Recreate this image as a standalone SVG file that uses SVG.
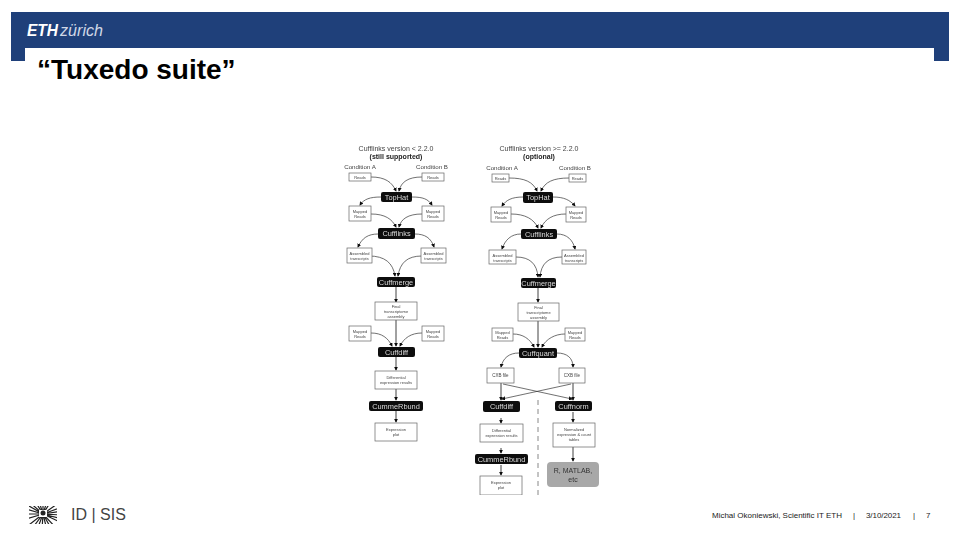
<svg xmlns="http://www.w3.org/2000/svg" width="960" height="540" viewBox="0 0 960 540">
<style>
text{font-family:"Liberation Sans",Arial,sans-serif}
.b{fill:#fff;stroke:#666;stroke-width:.7}
.k{fill:#0b0b0b}
.t{font-size:4px;fill:#444;text-anchor:middle}
.w{font-size:7.4px;fill:#ddd;text-anchor:middle}
.h{font-size:6.2px;fill:#444;text-anchor:middle}
.g{font-size:7px}
.c{fill:none;stroke:#333;stroke-width:.7;marker-end:url(#a)}
.s{fill:none;stroke:#444;stroke-width:1;marker-end:url(#a)}
</style>
<defs><marker id="a" markerWidth="4" markerHeight="4" refX="3.2" refY="2" orient="auto" markerUnits="userSpaceOnUse"><path d="M0 0L4 2L0 4Z" fill="#111"/></marker>
<filter id="soft" x="0" y="0" width="1" height="1"><feGaussianBlur stdDeviation="0.35"/></filter>
<clipPath id="lc"><rect x="29" y="506" width="28" height="18"/></clipPath></defs>
<g id="banner">
<path d="M11 12H949V61H934V48H25V61H11Z" fill="#1f407a"/>
<text x="27" y="36" font-size="16" font-weight="700" font-style="italic" fill="#fff" textLength="31" lengthAdjust="spacingAndGlyphs">ETH</text>
<text x="60" y="36" font-size="16" font-style="italic" fill="#cfd7e6" textLength="43" lengthAdjust="spacingAndGlyphs">zürich</text>
</g>
<text id="title" x="37" y="79" font-size="28" font-weight="700" fill="#000">“Tuxedo suite”</text>
<g id="figure" filter="url(#soft)">
<g id="connectors">
<path class="c" d="M371 177C385 177 392 182 396 191"/><path class="c" d="M422 177C408 177 401 182 399 191"/>
<path class="c" d="M381 197C370 197 364 199 360 205"/><path class="c" d="M412 197C423 197 428 199 432 205"/>
<path class="c" d="M371 214C385 214 392 219 396 227"/><path class="c" d="M422 214C408 214 401 219 399 227"/>
<path class="c" d="M378 234C368 234 362 238 358 247"/><path class="c" d="M415 234C425 234 431 238 434 247"/>
<path class="c" d="M369 256C385 256 393 263 395 276"/><path class="c" d="M422 256C407 256 400 263 398 276"/>
<path class="s" d="M396 287V302"/><path class="s" d="M396 320V346"/>
<path class="c" d="M371 333C382 333 388 338 392 346"/><path class="c" d="M422 333C411 333 404 338 400 346"/>
<path class="s" d="M396 357V370"/><path class="s" d="M396 389V400"/><path class="s" d="M396 411V422"/>
<path class="c" d="M509 178C525 178 533 182 537 191"/><path class="c" d="M569 178C553 178 545 182 541 191"/>
<path class="c" d="M523 197C512 197 506 200 502 206"/><path class="c" d="M553 197C564 197 570 200 575 206"/>
<path class="c" d="M511 214C525 214 534 219 538 228"/><path class="c" d="M566 214C553 214 545 219 541 228"/>
<path class="c" d="M521 234C511 234 505 240 502 249"/><path class="c" d="M557 234C567 234 573 240 575 249"/>
<path class="c" d="M516 257C530 257 537 264 538 277"/><path class="c" d="M562 257C548 257 541 264 540 277"/>
<path class="s" d="M538 288V302"/><path class="s" d="M538 321V347"/>
<path class="c" d="M513 334C523 334 530 339 534 347"/><path class="c" d="M565 334C555 334 546 339 542 347"/>
<path class="c" d="M519 353C509 353 503 358 501 367"/><path class="c" d="M557 353C567 353 573 358 573 367"/>
<path class="s" d="M501 383V400"/><path class="s" d="M573 383V400"/>
<path class="c" d="M503 384L572 399"/><path class="c" d="M571 384L502 399"/>
<path class="s" d="M501 418V423"/><path class="s" d="M573 412V422"/><path class="s" d="M501 448V453"/><path class="s" d="M573 447V461"/><path class="s" d="M501 465V475"/>
<path d="M538 400V495" fill="none" stroke="#888" stroke-width="1" stroke-dasharray="5 4"/>
</g>
<g id="headings">
<text class="h g" x="396" y="151">Cufflinks version &lt; 2.2.0</text>
<text class="h g" x="396" y="159" font-weight="700" style="fill:#222">(still supported)</text>
<text class="h g" x="539" y="151">Cufflinks version &gt;= 2.2.0</text>
<text class="h g" x="539" y="159" font-weight="700" style="fill:#222">(optional)</text>
<text class="h" x="360" y="169">Condition A</text><text class="h" x="432" y="169">Condition B</text>
<text class="h" x="502" y="170">Condition A</text><text class="h" x="575" y="170">Condition B</text>
</g>
<g id="l-reads-a"><rect class="b" x="349" y="173" width="22" height="8"/><text class="t" x="360" y="178.500">Reads</text></g>
<g id="l-reads-b"><rect class="b" x="422" y="173" width="22" height="8"/><text class="t" x="433" y="178.500">Reads</text></g>
<g id="l-tophat"><rect class="k" x="381" y="192" width="31" height="10" rx="2"/><text class="w" x="396.500" y="199.500">TopHat</text></g>
<g id="l-mapped-a"><rect class="b" x="349" y="206" width="22" height="15"/><text class="t" x="360" y="213">Mapped</text><text class="t" x="360" y="218">Reads</text></g>
<g id="l-mapped-b"><rect class="b" x="422" y="206" width="22" height="15"/><text class="t" x="433" y="213">Mapped</text><text class="t" x="433" y="218">Reads</text></g>
<g id="l-cufflinks"><rect class="k" x="378" y="228" width="37" height="11" rx="2"/><text class="w" x="396.500" y="236">Cufflinks</text></g>
<g id="l-asm-a"><rect class="b" x="347" y="248" width="25" height="15"/><text class="t" x="359.500" y="255">Assembled</text><text class="t" x="359.500" y="260">transcripts</text></g>
<g id="l-asm-b"><rect class="b" x="421" y="248" width="25" height="15"/><text class="t" x="433.500" y="255">Assembled</text><text class="t" x="433.500" y="260">transcripts</text></g>
<g id="l-cuffmerge"><rect class="k" x="377" y="277" width="38" height="10" rx="2"/><text class="w" x="396" y="284.500">Cuffmerge</text></g>
<g id="l-final"><rect class="b" x="375" y="302" width="42" height="18"/><text class="t" x="396" y="307.500">Final</text><text class="t" x="396" y="312.500">transcriptome</text><text class="t" x="396" y="317.500">assembly</text></g>
<g id="l-mapped2-a"><rect class="b" x="349" y="326" width="22" height="15"/><text class="t" x="360" y="333">Mapped</text><text class="t" x="360" y="338">Reads</text></g>
<g id="l-mapped2-b"><rect class="b" x="422" y="326" width="22" height="15"/><text class="t" x="433" y="333">Mapped</text><text class="t" x="433" y="338">Reads</text></g>
<g id="l-cuffdiff"><rect class="k" x="378" y="347" width="37" height="10" rx="2"/><text class="w" x="396.500" y="354.500">Cuffdiff</text></g>
<g id="l-diff"><rect class="b" x="375" y="371" width="42" height="18"/><text class="t" x="396" y="378.500">Differential</text><text class="t" x="396" y="383.500">expression results</text></g>
<g id="l-cummerbund"><rect class="k" x="369" y="401" width="54" height="10" rx="2"/><text class="w" x="396" y="408.500">CummeRbund</text></g>
<g id="l-plot"><rect class="b" x="375" y="423" width="42" height="18"/><text class="t" x="396" y="431">Expression</text><text class="t" x="396" y="436">plot</text></g>
<g id="r-reads-a"><rect class="b" x="492" y="174" width="17" height="8"/><text class="t" x="500.500" y="179.500">Reads</text></g>
<g id="r-reads-b"><rect class="b" x="569" y="174" width="17" height="8"/><text class="t" x="577.500" y="179.500">Reads</text></g>
<g id="r-tophat"><rect class="k" x="523" y="192" width="30" height="11" rx="2"/><text class="w" x="538" y="200">TopHat</text></g>
<g id="r-mapped-a"><rect class="b" x="491" y="207" width="20" height="15"/><text class="t" x="501" y="214">Mapped</text><text class="t" x="501" y="219">Reads</text></g>
<g id="r-mapped-b"><rect class="b" x="566" y="207" width="20" height="15"/><text class="t" x="576" y="214">Mapped</text><text class="t" x="576" y="219">Reads</text></g>
<g id="r-cufflinks"><rect class="k" x="521" y="229" width="36" height="10" rx="2"/><text class="w" x="539" y="236.500">Cufflinks</text></g>
<g id="r-asm-a"><rect class="b" x="489" y="250" width="27" height="14"/><text class="t" x="502.500" y="256.500">Assembled</text><text class="t" x="502.500" y="261.500">transcripts</text></g>
<g id="r-asm-b"><rect class="b" x="562" y="250" width="24" height="14"/><text class="t" x="574" y="256.500">Assembled</text><text class="t" x="574" y="261.500">transcripts</text></g>
<g id="r-cuffmerge"><rect class="k" x="521" y="278" width="35" height="10" rx="2"/><text class="w" x="538.500" y="285.500">Cuffmerge</text></g>
<g id="r-final"><rect class="b" x="518" y="303" width="41" height="18"/><text class="t" x="538.500" y="308.500">Final</text><text class="t" x="538.500" y="313.500">transcriptome</text><text class="t" x="538.500" y="318.500">assembly</text></g>
<g id="r-mapped2-a"><rect class="b" x="492" y="328" width="21" height="13"/><text class="t" x="502.500" y="334">Mapped</text><text class="t" x="502.500" y="339">Reads</text></g>
<g id="r-mapped2-b"><rect class="b" x="565" y="328" width="20" height="13"/><text class="t" x="575" y="334">Mapped</text><text class="t" x="575" y="339">Reads</text></g>
<g id="r-cuffquant"><rect class="k" x="519" y="348" width="38" height="10" rx="2"/><text class="w" x="538" y="355.500">Cuffquant</text></g>
<g id="r-cxb-a"><rect class="b" x="487" y="368" width="27" height="15"/><text class="t" x="500.500" y="377" style="font-size:4.500px">CXB file</text></g>
<g id="r-cxb-b"><rect class="b" x="559" y="368" width="26" height="15"/><text class="t" x="572" y="377" style="font-size:4.500px">CXB file</text></g>
<g id="r-cuffdiff"><rect class="k" x="483" y="401" width="37" height="11" rx="2"/><text class="w" x="501.500" y="409">Cuffdiff</text></g>
<g id="r-cuffnorm"><rect class="k" x="555" y="401" width="37" height="10" rx="2"/><text class="w" x="573.500" y="408.500">Cuffnorm</text></g>
<g id="r-diff"><rect class="b" x="480" y="424" width="43" height="18"/><text class="t" x="501.500" y="431.500">Differential</text><text class="t" x="501.500" y="436.500">expression results</text></g>
<g id="r-norm"><rect class="b" x="553" y="423" width="42" height="24"/><text class="t" x="574" y="431">Normalized</text><text class="t" x="574" y="436">expression &amp; count</text><text class="t" x="574" y="441">tables</text></g>
<g id="r-cummerbund"><rect class="k" x="475" y="454" width="53" height="10" rx="2"/><text class="w" x="501.500" y="461.500">CummeRbund</text></g>
<g id="r-plot"><rect class="b" x="480" y="476" width="42" height="19"/><text class="t" x="501" y="484">Expression</text><text class="t" x="501" y="489">plot</text></g>
<g id="r-other"><rect x="547" y="462" width="52" height="25" rx="4" fill="#a8a8a8"/><text x="573" y="473" font-size="7" fill="#333" text-anchor="middle">R, MATLAB,</text><text x="573" y="482" font-size="7" fill="#333" text-anchor="middle">etc</text></g>
</g>
<g id="ethlogo" clip-path="url(#lc)" fill="none" stroke="#222" stroke-width="1.200">
<path d="M43 514L22 502M43 514L27 500M43 514L33 498M43 514L38 498M43 514L43 498M43 514L48 498M43 514L53 498M43 514L60 502M43 514L62 507M43 514L62 511M43 514L62 515M43 514L62 519M43 514L62 523M43 514L58 530M43 514L52 530M43 514L47 530M43 514L42 530M43 514L37 530M43 514L31 530M43 514L25 528M43 514L23 520M43 514L23 514M43 514L23 508"/>
<rect x="39" y="510" width="8" height="7" fill="#fff" stroke="none"/>
<circle cx="43" cy="513" r="2.500" fill="#222" stroke="none"/>
</g>
<text id="idsis" x="71" y="520" font-size="16" fill="#444">ID | SIS</text>
<g id="footer" font-size="8" fill="#222">
<text x="712" y="518" textLength="130">Michal Okoniewski, Scientific IT ETH</text>
<text x="853" y="518">|</text>
<text x="866" y="518" textLength="35">3/10/2021</text>
<text x="913" y="518">|</text>
<text x="926" y="518">7</text>
</g>
</svg>
